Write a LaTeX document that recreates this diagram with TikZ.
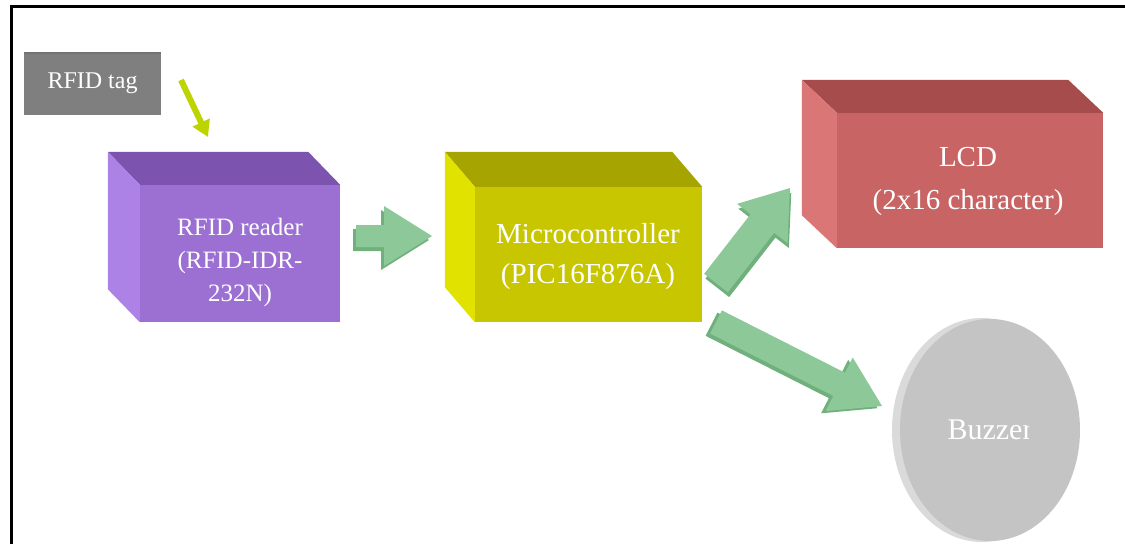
\documentclass[tikz,border=0pt]{standalone}
\usepackage{fontspec}
\setmainfont{Liberation Serif}
\usetikzlibrary{calc,shapes.geometric,arrows.meta}
\definecolor{rfront}{RGB}{155,112,210}
\definecolor{rtop}{RGB}{124,84,176}
\definecolor{rside}{RGB}{172,130,230}
\definecolor{mfront}{RGB}{200,198,0}
\definecolor{mtop}{RGB}{166,164,0}
\definecolor{mside}{RGB}{226,226,0}
\definecolor{lfront}{RGB}{200,100,100}
\definecolor{ltop}{RGB}{166,76,76}
\definecolor{lside}{RGB}{218,118,118}
\definecolor{bfill}{RGB}{196,196,196}
\definecolor{brim}{RGB}{218,218,218}
\definecolor{tagfill}{RGB}{127,127,127}
\definecolor{agreen}{RGB}{140,200,152}
\definecolor{agreendark}{RGB}{112,176,124}
\definecolor{ayellow}{RGB}{190,212,0}
\newcommand\greenarrow[5]{%
  \path let \p1=($(#2)-(#1)$) in \pgfextra{%
    \pgfmathsetmacro\gang{atan2(\y1,\x1)}%
    \pgfmathsetmacro\glen{veclen(\x1,\y1)}%
    \global\let\gang\gang\global\let\glen\glen};
  \begin{scope}[shift={(#1)}, rotate=\gang]
    \fill[agreendark] (-3,-#3+4) -- (\glen-#5-3,-#3+4) -- (\glen-#5-3,-#4+4) -- (\glen-3,4) -- (\glen-#5-3,#4+4) -- (\glen-#5-3,#3+4) -- (-3,#3+4) -- cycle;
    \fill[agreen] (0,-#3) -- (\glen-#5,-#3) -- (\glen-#5,-#4) -- (\glen,0) -- (\glen-#5,#4) -- (\glen-#5,#3) -- (0,#3) -- cycle;
  \end{scope}}
\begin{document}
\begin{tikzpicture}[x=1pt,y=-1pt,
  face/.style={inner sep=0pt, text=white, align=center},
  txt/.style={text=white, align=center, inner sep=0pt}]
\useasboundingbox (0,0) rectangle (1125,544);
\fill[white] (0,0) rectangle (1125,544);
% frame
\draw[line width=3pt] (11,544) -- (11,6) -- (1125,6);

% RFID tag
\node[face, fill=tagfill, minimum width=137pt, minimum height=63pt,
      font=\fontsize{24}{28}\selectfont] (tag) at (92.5,83.5) {RFID tag};
\fill[black!55] (tag.north west) rectangle ([yshift=-2pt]tag.north east);

% RFID reader cube
\node[face, fill=rfront, minimum width=200pt, minimum height=137pt] (reader) at (240,253.5) {};
\fill[rtop] (reader.north west) -- (reader.north east) -- ([shift={(-32,-33)}]reader.north east) -- ([shift={(-32,-33)}]reader.north west) -- cycle;
\fill[rside] (reader.north west) -- (reader.south west) -- ([shift={(-32,-33)}]reader.south west) -- ([shift={(-32,-33)}]reader.north west) -- cycle;
\node[txt, font=\fontsize{25}{33}\selectfont] (readertext) at (240,262) {RFID reader\\(RFID-IDR-\\232N)};

% Microcontroller cube
\node[face, fill=mfront, minimum width=227pt, minimum height=135pt] (mcu) at (588.5,254.5) {};
\fill[mtop] (mcu.north west) -- (mcu.north east) -- ([shift={(-30,-35)}]mcu.north east) -- ([shift={(-30,-35)}]mcu.north west) -- cycle;
\fill[mside] (mcu.north west) -- (mcu.south west) -- ([shift={(-30,-35)}]mcu.south west) -- ([shift={(-30,-35)}]mcu.north west) -- cycle;
\node[txt, font=\fontsize{29}{40}\selectfont] (mcutext) at (588,257) {Microcontroller\\(PIC16F876A)};

% LCD cube
\node[face, fill=lfront, minimum width=266pt, minimum height=135pt] (lcd) at (970,180.5) {};
\fill[ltop] (lcd.north west) -- (lcd.north east) -- ([shift={(-35,-33)}]lcd.north east) -- ([shift={(-35,-33)}]lcd.north west) -- cycle;
\fill[lside] (lcd.north west) -- (lcd.south west) -- ([shift={(-35,-33)}]lcd.south west) -- ([shift={(-35,-33)}]lcd.north west) -- cycle;
\node[txt, font=\fontsize{29}{43}\selectfont] (lcdtext) at (968,181) {LCD\\(2x16 character)};

% Buzzer disk
\fill[brim] (982,430) ellipse [x radius=90, y radius=112];
\node[ellipse, fill=bfill, inner sep=0pt, minimum width=180pt, minimum height=222pt] (buzzer) at (990,430) {};
\begin{scope}
  \clip (900,395) rectangle (1028,465);
  \node[txt, font=\fontsize{30}{36}\selectfont] (buzzertext) at (990,430) {Buzzer};
\end{scope}

% connectors
\coordinate (t1) at (181,80);
\coordinate (t2) at (208,137);
\draw[ayellow, line width=6pt, -{Triangle[length=16pt,width=18pt]}] (t1) -- (t2);

\coordinate (a1s) at (356,236);
\coordinate (a1e) at (432,236);
\greenarrow{a1s}{a1e}{11}{30}{48}
\coordinate (a2s) at (716,283);
\coordinate (a2e) at (790,188);
\greenarrow{a2s}{a2e}{15}{32}{45}
\coordinate (a3s) at (716,322);
\coordinate (a3e) at (882,406);
\greenarrow{a3s}{a3e}{13}{30}{48}
\end{tikzpicture}
\end{document}
